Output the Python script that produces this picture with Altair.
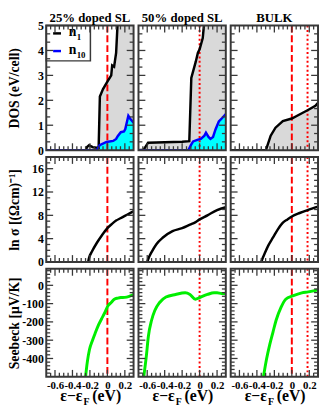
import altair as alt
import pandas as pd

FONT = "Liberation Serif"
FRAME = "#383838"
GREY = "#d9d9d9"
CYAN = "#00ffff"
BLUE = "#0000ff"
GREEN = "#00ee00"
RED = "#ff0000"

col_titles = ["25% doped SL", "50% doped SL", "BULK"]
row_titles = ["DOS (eV/cell)", "ln σ [(Ωcm)⁻¹]", "Seebeck [μV/K]"]

x_domain = [-0.7, 0.3]
x_major = [-0.6, -0.4, -0.2, 0.0, 0.2]
x_minor = [-0.65, -0.55, -0.5, -0.45, -0.35, -0.3, -0.25, -0.15, -0.1, -0.05,
           0.05, 0.1, 0.15, 0.25]

y_domains = [[0, 5], [0, 18], [-500, 90]]
y_labels = [[0, 1, 2, 3, 4, 5], [0, 4, 8, 12, 16], [-400, -300, -200, -100, 0]]
y_major = [[1, 2, 3, 4], [4, 8, 12, 16], [-400, -300, -200, -100, 0]]
y_minor = [
    [0.333, 0.667, 1.333, 1.667, 2.333, 2.667, 3.333, 3.667, 4.333, 4.667],
    [1, 2, 3, 5, 6, 7, 9, 10, 11, 13, 14, 15, 17],
    [-480, -460, -440, -420, -380, -360, -340, -320, -280, -260, -240, -220,
     -180, -160, -140, -120, -80, -60, -40, -20, 20, 40, 60, 80],
]

# ---- DOS (row 1) ----
n1_25_x = [-0.7, -0.245, -0.235, -0.21, -0.17, -0.12, -0.1, -0.086, -0.05, 0.0,
           0.044, 0.055, 0.077, 0.1, 0.12, 0.2, 0.3]
n1_25_y = [0, 0, 0.12, 0.2, 0.12, 0.1, 0.1, 2.15, 2.45, 2.75,
           3.0, 3.4, 3.35, 3.9, 5.3, 8.0, 10.0]
n10_25_x = [-0.7, -0.12, -0.088, -0.01, 0.066, 0.1, 0.12, 0.154, 0.19, 0.205,
            0.24, 0.264, 0.3]
n10_25_y = [0, 0, 0.2, 0.33, 0.37, 0.45, 0.57, 0.72, 0.75, 0.85,
            1.38, 1.25, 1.1]

n1_50_x = [-0.7, -0.64, -0.59, -0.4, -0.2, -0.118, -0.095, -0.044, -0.02, 0.0,
           0.036, 0.055, 0.1, 0.3]
n1_50_y = [0, 0.02, 0.3, 0.32, 0.34, 0.36, 2.9, 3.55, 3.9, 4.05,
           4.5, 5.2, 7.0, 10.0]
n10_50_x = [-0.7, -0.128, -0.1, -0.074, -0.019, 0.014, 0.055, 0.073, 0.102,
            0.124, 0.154, 0.182, 0.22, 0.256, 0.3]
n10_50_y = [0, 0, 0.2, 0.35, 0.42, 0.45, 0.58, 0.7, 0.53,
            0.45, 0.53, 0.83, 1.15, 1.28, 1.45]

n1_bulk_x = [-0.7, -0.297, -0.242, -0.187, -0.103, 0.0, 0.088, 0.18, 0.27, 0.3]
n1_bulk_y = [0, 0, 0.58, 0.9, 1.17, 1.27, 1.43, 1.6, 1.78, 1.9]

# ---- ln sigma (row 2) ----
sig_25_x = [-0.22, -0.21, -0.18, -0.12, -0.066, 0.0, 0.05, 0.1, 0.15, 0.2, 0.25, 0.3]
sig_25_y = [0, 0.7, 1.7, 3.3, 4.5, 5.8, 6.5, 7.1, 7.5, 7.9, 8.3, 8.7]
sig_50_x = [-0.6, -0.58, -0.55, -0.495, -0.42, -0.31, -0.2, -0.11, -0.05, 0.0,
            0.09, 0.2, 0.3]
sig_50_y = [0, 0.8, 1.7, 3.05, 4.2, 5.3, 5.8, 6.4, 6.8, 7.3, 8.0, 8.9, 9.4]
sig_bulk_x = [-0.35, -0.33, -0.31, -0.27, -0.215, -0.16, -0.105, -0.05, 0.0,
              0.09, 0.18, 0.3]
sig_bulk_y = [0, 0.8, 1.5, 2.8, 4.2, 5.6, 6.7, 7.3, 7.8, 8.4, 8.9, 9.5]

# ---- Seebeck (row 3) ----
see_25_x = [-0.25, -0.23, -0.205, -0.17, -0.14, -0.1, -0.066, -0.03, 0.007,
            0.044, 0.08, 0.12, 0.154, 0.2, 0.25, 0.3]
see_25_y = [-500, -420, -351, -300, -262, -215, -183, -150, -112,
            -94, -76, -70, -67, -66, -60, -50]
see_50_x = [-0.64, -0.61, -0.587, -0.55, -0.513, -0.458, -0.385, -0.275, -0.165,
            -0.11, -0.048, 0.0, 0.09, 0.165, 0.2, 0.25, 0.3]
see_50_y = [-500, -387, -280, -191, -138, -94, -64, -50, -41,
            -50, -76, -67, -50, -41, -41, -45, -45]
see_bulk_x = [-0.325, -0.29, -0.253, -0.215, -0.18, -0.124, -0.07, 0.01, 0.114,
              0.187, 0.3]
see_bulk_y = [-500, -404, -324, -254, -191, -121, -76, -58, -41, -36, -25]

# Fermi-level markers per column: (position, style)
ef_lines = [[(0.0, "dash")], [(0.0, "dot")], [(0.0, "dash"), (0.18, "dot")]]

W = 89
H = [127, 107, 110]
TMAJ = 7
TMIN = 4


def df(x, y):
    return pd.DataFrame({"x": x, "y": y})


one = pd.DataFrame({"k": [0]})


def xenc(r):
    if r == 2:
        ax = alt.Axis(values=x_major,
                      labelExpr="datum.value == 0 ? '0' : (datum.value < 0 ? '-' : '') + format(abs(datum.value), '.1f')",
                      ticks=False, tickSize=0, domain=False, grid=False,
                      labelFontSize=11, labelPadding=3, labelOverlap=False,
                      labelFlush=False, title=None)
    else:
        ax = None
    return alt.X("x:Q", scale=alt.Scale(domain=x_domain, nice=False, zero=False), axis=ax)


def yenc(r, c):
    if c == 0:
        ax = alt.Axis(values=y_labels[r],
                      labelExpr="(datum.value < 0 ? '-' : '') + format(abs(datum.value), 'd')",
                      ticks=False, tickSize=0, domain=False, grid=False,
                      labelFontSize=12, labelPadding=3, labelOverlap=False,
                      title=row_titles[r], titleFontSize=14, titlePadding=1,
                      minExtent=24, maxExtent=24)
    else:
        ax = None
    return alt.Y("y:Q", scale=alt.Scale(domain=y_domains[r], nice=False, zero=False), axis=ax)


def area(d, color, r, c):
    return alt.Chart(d).mark_area(color=color, clip=True, orient="vertical").encode(
        x=xenc(r), y=yenc(r, c), y2=alt.datum(0))


def curves(r, c):
    layers = []
    if r == 0:
        n1 = [(n1_25_x, n1_25_y), (n1_50_x, n1_50_y), (n1_bulk_x, n1_bulk_y)][c]
        n10 = [(n10_25_x, n10_25_y), (n10_50_x, n10_50_y), None][c]
        d1 = df(*n1)
        layers.append(area(d1, GREY, r, c))
        if n10 is not None:
            d10 = df(*n10)
            layers.append(area(d10, CYAN, r, c))
        layers += ef_rules(r, c)
        layers.append(alt.Chart(d1).mark_line(color="black", strokeWidth=2.5, clip=True).encode(x=xenc(r), y=yenc(r, c)))
        if n10 is not None:
            layers.append(alt.Chart(d10).mark_line(color=BLUE, strokeWidth=2.5, clip=True).encode(x=xenc(r), y=yenc(r, c)))
    elif r == 1:
        s = [(sig_25_x, sig_25_y), (sig_50_x, sig_50_y), (sig_bulk_x, sig_bulk_y)][c]
        layers += ef_rules(r, c)
        layers.append(alt.Chart(df(*s)).mark_line(color="black", strokeWidth=2.5, clip=True,
                                                  interpolate="monotone").encode(x=xenc(r), y=yenc(r, c)))
    else:
        s = [(see_25_x, see_25_y), (see_50_x, see_50_y), (see_bulk_x, see_bulk_y)][c]
        layers += ef_rules(r, c)
        layers.append(alt.Chart(df(*s)).mark_line(color=GREEN, strokeWidth=3, clip=True,
                                                  interpolate="monotone").encode(x=xenc(r), y=yenc(r, c)))
    return layers


def ef_rules(r, c):
    out = []
    for pos, style in ef_lines[c]:
        dash = [7, 3] if style == "dash" else [2, 2.5]
        out.append(alt.Chart(pd.DataFrame({"x": [pos]})).mark_rule(
            color=RED, strokeWidth=2, strokeDash=dash).encode(x=xenc(r)))
    return out


def ticks(r, c):
    h = H[r]
    out = []
    for vals, L in ((x_major, TMAJ), (x_minor, TMIN)):
        d = pd.DataFrame({"x": vals})
        out.append(alt.Chart(d).mark_rule(color=FRAME, strokeWidth=1.3).encode(
            x=xenc(r), y=alt.value(0), y2=alt.value(L)))
        out.append(alt.Chart(d).mark_rule(color=FRAME, strokeWidth=1.3).encode(
            x=xenc(r), y=alt.value(h - L), y2=alt.value(h)))
    for vals, L in ((y_major[r], TMAJ), (y_minor[r], TMIN)):
        d = pd.DataFrame({"y": vals})
        out.append(alt.Chart(d).mark_rule(color=FRAME, strokeWidth=1.3).encode(
            y=yenc(r, c), x=alt.value(0), x2=alt.value(L)))
        out.append(alt.Chart(d).mark_rule(color=FRAME, strokeWidth=1.3).encode(
            y=yenc(r, c), x=alt.value(W - L), x2=alt.value(W)))
    return out


def legend():
    tf = dict(font=FONT, fontWeight="bold", color="black", align="left", baseline="alphabetic")
    out = [
        alt.Chart(one).mark_rect(fill="white", stroke=FRAME, strokeWidth=1.5).encode(
            x=alt.value(0), x2=alt.value(45), y=alt.value(0), y2=alt.value(36)),
        alt.Chart(one).mark_rule(color="black", strokeWidth=2.5).encode(
            x=alt.value(7), x2=alt.value(15), y=alt.value(8)),
        alt.Chart(one).mark_rule(color=BLUE, strokeWidth=2.5).encode(
            x=alt.value(7), x2=alt.value(15), y=alt.value(26)),
        alt.Chart(one).mark_text(text="n", fontSize=14, **tf).encode(x=alt.value(23), y=alt.value(11)),
        alt.Chart(one).mark_text(text="1", fontSize=9, **tf).encode(x=alt.value(31), y=alt.value(15)),
        alt.Chart(one).mark_text(text="n", fontSize=14, **tf).encode(x=alt.value(23), y=alt.value(29)),
        alt.Chart(one).mark_text(text="10", fontSize=9, **tf).encode(x=alt.value(31), y=alt.value(33)),
    ]
    return out


def xtitle(r):
    h = H[r]
    tf = dict(font=FONT, fontWeight="bold", color="black", baseline="alphabetic")
    return [
        alt.Chart(one).mark_text(text="ε−ε", fontSize=16, align="right", **tf).encode(
            x=alt.value(37), y=alt.value(h + 25)),
        alt.Chart(one).mark_text(text="F", fontSize=10, align="left", **tf).encode(
            x=alt.value(38), y=alt.value(h + 29)),
        alt.Chart(one).mark_text(text="(eV)", fontSize=16, align="left", **tf).encode(
            x=alt.value(47), y=alt.value(h + 25)),
    ]


def coltitle(c):
    return alt.Chart(one).mark_text(text=col_titles[c], font=FONT, fontSize=13, fontWeight="bold",
                                    color="black", align="center", baseline="alphabetic").encode(
        x=alt.value(W / 2), y=alt.value(-4))


def frame(r):
    return alt.Chart(one).mark_rect(filled=False, stroke=FRAME, strokeWidth=2).encode(
        x=alt.value(0), x2=alt.value(W), y=alt.value(0), y2=alt.value(H[r]))


def panel(r, c):
    layers = curves(r, c)
    if r == 0 and c == 0:
        layers += legend()
    layers += ticks(r, c)
    layers.append(frame(r))
    if r == 0:
        layers.append(coltitle(c))
    if r == 2:
        layers += xtitle(r)
    return alt.layer(*layers).properties(width=W, height=H[r])


rows = [alt.hconcat(*[panel(r, c) for c in range(3)], spacing=3) for r in range(3)]
chart = alt.vconcat(*rows, spacing=0).properties(
    padding={"left": 0, "top": 0, "right": 0, "bottom": 0}
).configure_view(strokeWidth=0).configure_axis(
    labelFont=FONT, titleFont=FONT, labelFontWeight="bold", titleFontWeight="bold",
    labelColor="black", titleColor="black"
)

chart.save("out.html", embed_options={"renderer": "svg", "actions": False})
